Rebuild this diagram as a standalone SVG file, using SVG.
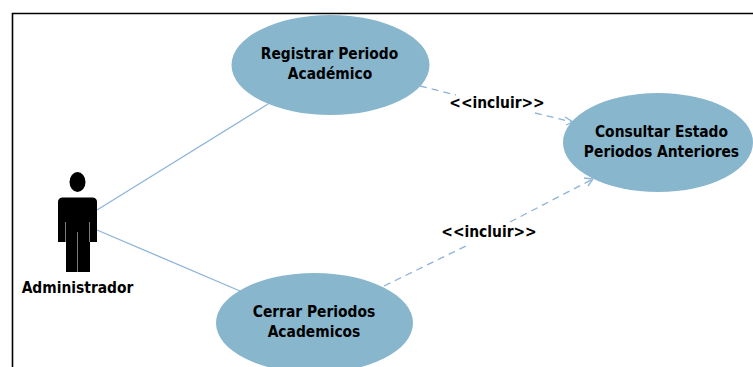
<svg xmlns="http://www.w3.org/2000/svg" width="753" height="367" viewBox="0 0 753 367">
<defs>
<style>
.uc{fill:#87b6cd}
.t{font-family:"DejaVu Sans Condensed","DejaVu Sans",sans-serif;font-weight:bold;font-size:15.400px;fill:#000;text-anchor:middle}
.c{fill:none;stroke:#8db4d8;stroke-width:1.300}
.d{stroke-dasharray:7 5}
.s{stroke:#999;stroke-width:0.800;fill:none}
</style>
</defs>
<rect width="753" height="367" fill="#fff"/>
<path d="M12.500 367V13.500H753" fill="none" stroke="#000" stroke-width="1.600"/>
<g id="connectors">
<path class="c" d="M97 210L268 104"/>
<path class="c" d="M97 230L240 291"/>
<path class="c d" d="M420 86L456 95"/>
<path class="c d" d="M535 113L572 122"/>
<path class="c" d="M565 117L573 122L566 125"/>
<path class="c d" d="M384 286L468 245"/>
<path class="c d" d="M510 222L593 179"/>
<path class="c" d="M584 178L593 179L588 186"/>
</g>
<g id="actor">
<ellipse cx="77.500" cy="182" rx="8" ry="10" fill="#000"/>
<path d="M62 197.500H93Q97 198 97 202V242H90V272H66V242H58V202Q58 198 62 197.500Z" fill="#000"/>
<path class="s" d="M77.500 232V272M65.500 222V242M89.500 222V242"/>
<text class="t" x="77.500" y="293">Administrador</text>
</g>
<g id="registrar">
<ellipse class="uc" cx="330.500" cy="65" rx="99" ry="50"/>
<text class="t" x="329.500" y="59">Registrar Periodo</text>
<text class="t" x="330" y="79">Académico</text>
</g>
<g id="consultar">
<ellipse class="uc" cx="658" cy="142.500" rx="95" ry="49.500"/>
<text class="t" x="661.500" y="137">Consultar Estado</text>
<text class="t" x="661.500" y="157">Periodos Anteriores</text>
</g>
<g id="cerrar">
<ellipse class="uc" cx="314.500" cy="323" rx="98.500" ry="50"/>
<text class="t" x="314" y="317">Cerrar Periodos</text>
<text class="t" x="314" y="337">Academicos</text>
</g>
<text class="t" x="497" y="108">&lt;&lt;incluir&gt;&gt;</text>
<text class="t" x="489" y="237">&lt;&lt;incluir&gt;&gt;</text>
</svg>
